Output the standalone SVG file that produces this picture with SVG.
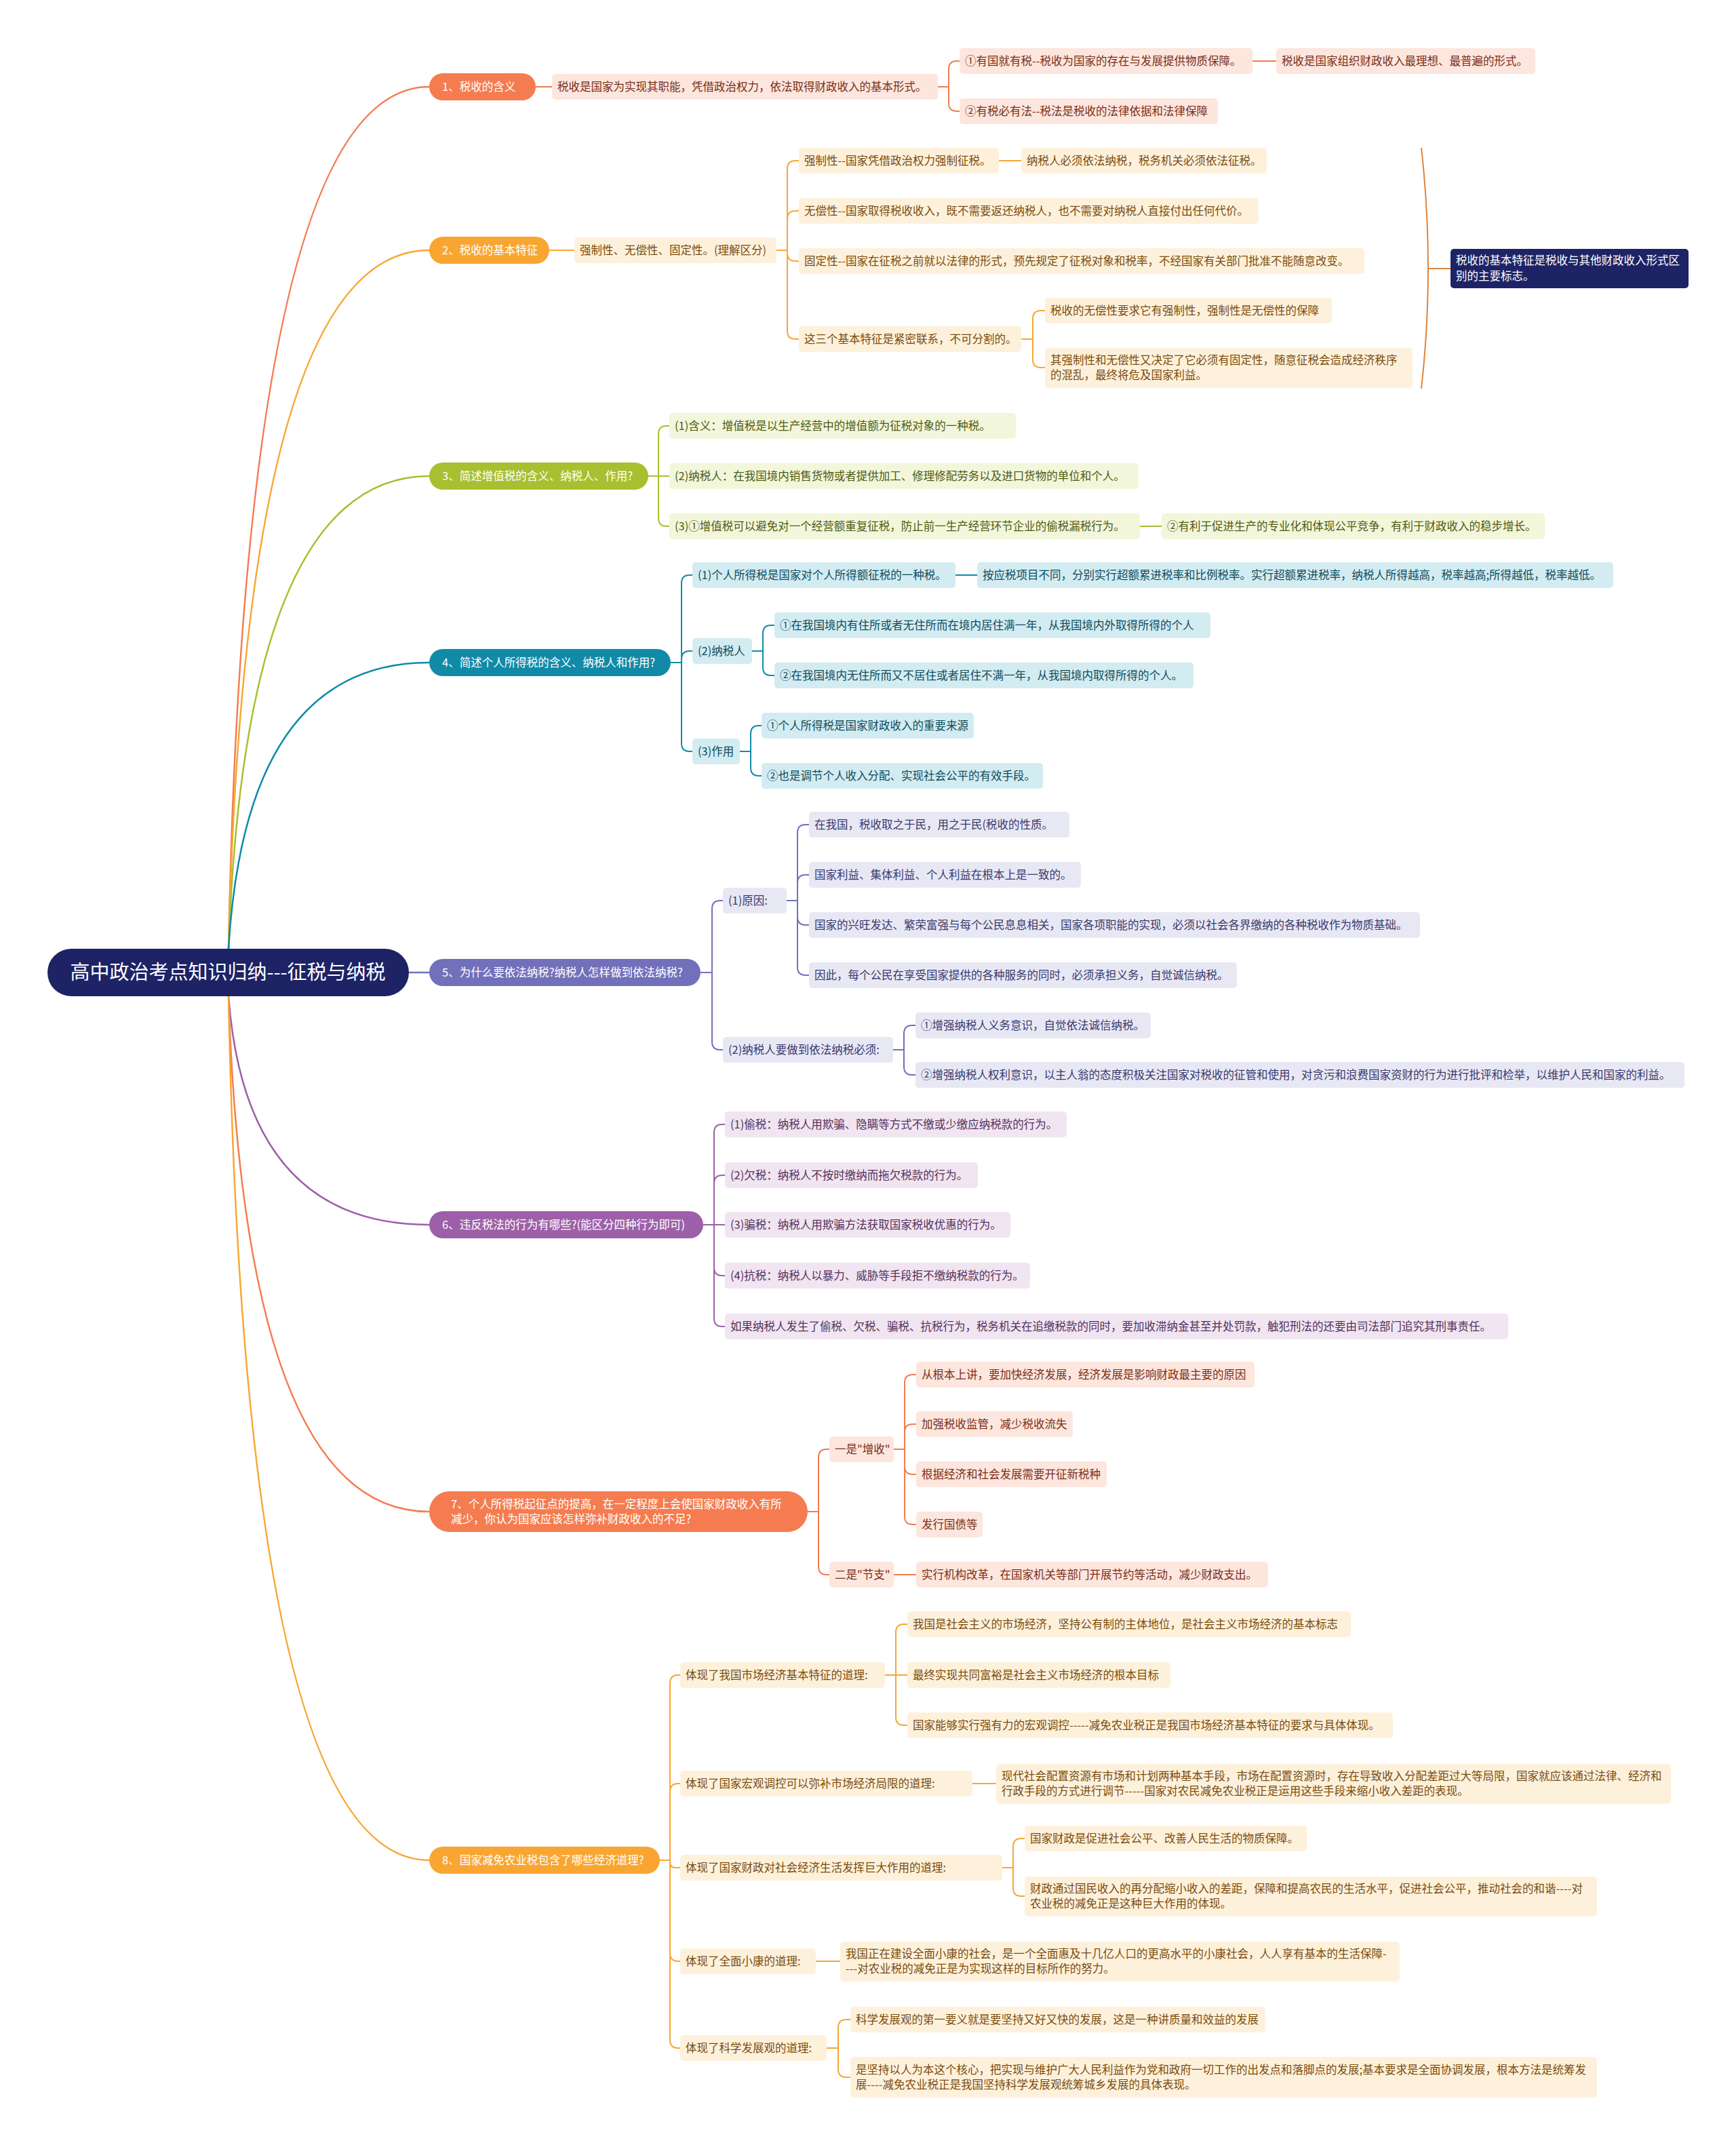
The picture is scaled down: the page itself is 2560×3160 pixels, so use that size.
<svg xmlns="http://www.w3.org/2000/svg" width="2560" height="3160" viewBox="0 0 2560 3160">
<style>
text{font-family:"Noto Sans CJK SC","Noto Sans",sans-serif;font-size:16.5px}
.root rect{fill:#1E2366}
.root text{fill:#fff;font-size:29px}
.m text{fill:#fff}
.m1 rect{fill:#F47C50}.m2 rect{fill:#F8A631}.m3 rect{fill:#A8BF2F}.m4 rect{fill:#118AA8}.m5 rect{fill:#7270BA}.m6 rect{fill:#9D60A8}
.s1 rect{fill:#FDE6DE}.s1 text{fill:#7A2E16}
.s2 rect{fill:#FEF1DC}.s2 text{fill:#7A4C0C}
.s3 rect{fill:#F2F6DB}.s3 text{fill:#4E5A12}
.s4 rect{fill:#D3ECF2}.s4 text{fill:#0D4B5B}
.s5 rect{fill:#E8E8F4}.s5 text{fill:#38386E}
.s6 rect{fill:#F0E5F1}.s6 text{fill:#54305C}
.navy rect{fill:#1E2366}.navy text{fill:#fff}
#connectors path{fill:none;stroke-width:2}
#connectors .rc{stroke-width:2.5}
.c1{stroke:#F47C50}.c2{stroke:#F8A631}.c3{stroke:#A8BF2F}.c4{stroke:#118AA8}.c5{stroke:#7270BA}.c6{stroke:#9D60A8}.cb{stroke:#E0833A}
</style>
<rect width="2560" height="3160" fill="#ffffff"/>
<g id="connectors">
<path class="rc c1" d="M337 1399 Q362 128 633 128"/>
<path class="rc c2" d="M337 1399 Q362 369 633 369"/>
<path class="rc c3" d="M337 1399 Q362 702 633 702"/>
<path class="rc c4" d="M337 1399 Q362 977 633 977"/>
<path class="rc c5" d="M603 1434 H633"/>
<path class="rc c6" d="M337 1469 Q362 1806 633 1806"/>
<path class="rc c1" d="M337 1469 Q362 2229 633 2229"/>
<path class="rc c2" d="M337 1469 Q362 2743 633 2743"/>
<path class="c1" d="M790 128 H814 M1383 128 H1399 V102 Q1399 90 1411 90 H1415 M1399 128 V152 Q1399 164 1411 164 H1415 M1847 90 H1882"/>
<path class="c2" d="M810 369 H847 M1145 369 H1161 V249 Q1161 237 1173 237 H1178 M1161 369 V323 Q1161 311 1173 311 H1178 M1161 369 V373 Q1161 385 1173 385 H1178 M1161 369 V488 Q1161 500 1173 500 H1178 M1473 237 H1506 M1506 500 H1523 V470 Q1523 458 1535 458 H1541 M1523 500 V530 Q1523 542 1535 542 H1541"/>
<path class="cb" d="M2096 218 Q2116 396 2096 573 M2106 396 H2139"/>
<path class="c3" d="M956 702 H971 V640 Q971 628 983 628 H987 M971 702 H987 M971 702 V764 Q971 776 983 776 H987 M1681 776 H1713"/>
<path class="c4" d="M989 977 H1005 V860 Q1005 848 1017 848 H1021 M1005 977 V972 Q1005 960 1017 960 H1021 M1005 977 V1096 Q1005 1108 1017 1108 H1021 M1409 848 H1441 M1109 960 H1125 V934 Q1125 922 1137 922 H1142 M1125 960 V984 Q1125 996 1137 996 H1142 M1091 1108 H1107 V1082 Q1107 1070 1119 1070 H1123 M1107 1108 V1132 Q1107 1144 1119 1144 H1123"/>
<path class="c5" d="M1033 1434 H1050 V1340 Q1050 1328 1062 1328 H1066 M1050 1434 V1536 Q1050 1548 1062 1548 H1066 M1160 1328 H1176 V1228 Q1176 1216 1188 1216 H1193 M1176 1328 V1302 Q1176 1290 1188 1290 H1193 M1176 1328 V1352 Q1176 1364 1188 1364 H1193 M1176 1328 V1426 Q1176 1438 1188 1438 H1193 M1317 1548 H1333 V1524 Q1333 1512 1345 1512 H1350 M1333 1548 V1573 Q1333 1585 1345 1585 H1350"/>
<path class="c6" d="M1037 1806 H1053 V1670 Q1053 1658 1065 1658 H1069 M1053 1806 V1745 Q1053 1733 1065 1733 H1069 M1053 1806 H1069 M1053 1806 V1869 Q1053 1881 1065 1881 H1069 M1053 1806 V1944 Q1053 1956 1065 1956 H1069"/>
<path class="c1" d="M1191 2229 H1207 V2149 Q1207 2137 1219 2137 H1223 M1207 2229 V2310 Q1207 2322 1219 2322 H1223 M1318 2137 H1334 V2039 Q1334 2027 1346 2027 H1351 M1334 2137 V2112 Q1334 2100 1346 2100 H1351 M1334 2137 V2162 Q1334 2174 1346 2174 H1351 M1334 2137 V2236 Q1334 2248 1346 2248 H1351 M1318 2322 H1351"/>
<path class="c2" d="M973 2743 H988 V2482 Q988 2470 1000 2470 H1003 M988 2743 V2642 Q988 2630 1000 2630 H1003 M988 2743 V2746 Q988 2754 996 2754 H1003 M988 2743 V2880 Q988 2892 1000 2892 H1003 M988 2743 V3008 Q988 3020 1000 3020 H1003 M1305 2470 H1338 M1321 2470 V2407 Q1321 2395 1333 2395 H1338 M1321 2470 V2532 Q1321 2544 1333 2544 H1338 M1434 2630 H1469 M1478 2754 H1494 V2723 Q1494 2711 1506 2711 H1511 M1494 2754 V2784 Q1494 2796 1506 2796 H1511 M1203 2892 H1239 M1219 3020 H1236 V2990 Q1236 2978 1248 2978 H1254 M1236 3020 V3051 Q1236 3063 1248 3063 H1254"/>
</g>
<g id="root" class="root"><rect x="70" y="1399" width="533" height="70" rx="35"/><text x="336" y="1444" text-anchor="middle">高中政治考点知识归纳---征税与纳税</text></g>

<g id="n1" class="m m1"><rect x="633" y="108" width="157" height="40" rx="20"/><text x="652" y="134">1、税收的含义</text></g>
<g id="n1-1" class="s1"><rect x="814" y="109" width="569" height="38" rx="5"/><text x="822" y="134">税收是国家为实现其职能，凭借政治权力，依法取得财政收入的基本形式。</text></g>
<g id="n1-1-1" class="s1"><rect x="1415" y="71" width="432" height="38" rx="5"/><text x="1423" y="96">①有国就有税--税收为国家的存在与发展提供物质保障。</text></g>
<g id="n1-1-1-1" class="s1"><rect x="1882" y="71" width="382" height="38" rx="5"/><text x="1890" y="96">税收是国家组织财政收入最理想、最普遍的形式。</text></g>
<g id="n1-1-2" class="s1"><rect x="1415" y="145" width="381" height="38" rx="5"/><text x="1423" y="170">②有税必有法--税法是税收的法律依据和法律保障</text></g>

<g id="n2" class="m m2"><rect x="633" y="349" width="177" height="40" rx="20"/><text x="652" y="375">2、税收的基本特征</text></g>
<g id="n2-1" class="s2"><rect x="847" y="350" width="298" height="38" rx="5"/><text x="855" y="375">强制性、无偿性、固定性。(理解区分)</text></g>
<g id="n2-1-1" class="s2"><rect x="1178" y="218" width="295" height="38" rx="5"/><text x="1186" y="243">强制性--国家凭借政治权力强制征税。</text></g>
<g id="n2-1-1-1" class="s2"><rect x="1506" y="218" width="362" height="38" rx="5"/><text x="1514" y="243">纳税人必须依法纳税，税务机关必须依法征税。</text></g>
<g id="n2-1-2" class="s2"><rect x="1178" y="292" width="678" height="38" rx="5"/><text x="1186" y="317">无偿性--国家取得税收收入，既不需要返还纳税人，也不需要对纳税人直接付出任何代价。</text></g>
<g id="n2-1-3" class="s2"><rect x="1178" y="366" width="834" height="38" rx="5"/><text x="1186" y="391">固定性--国家在征税之前就以法律的形式，预先规定了征税对象和税率，不经国家有关部门批准不能随意改变。</text></g>
<g id="n2-1-4" class="s2"><rect x="1178" y="481" width="328" height="38" rx="5"/><text x="1186" y="506">这三个基本特征是紧密联系，不可分割的。</text></g>
<g id="n2-1-4-1" class="s2"><rect x="1541" y="439" width="423" height="38" rx="5"/><text x="1549" y="464">税收的无偿性要求它有强制性，强制性是无偿性的保障</text></g>
<g id="n2-1-4-2" class="s2"><rect x="1541" y="513" width="542" height="59" rx="5"/><text x="1549" y="537">其强制性和无偿性又决定了它必须有固定性，随意征税会造成经济秩序</text><text x="1549" y="559">的混乱，最终将危及国家利益。</text></g>
<g id="n2-summary" class="navy"><rect x="2139" y="367" width="351" height="58" rx="5"/><text x="2147" y="390">税收的基本特征是税收与其他财政收入形式区</text><text x="2147" y="413">别的主要标志。</text></g>

<g id="n3" class="m m3"><rect x="633" y="682" width="323" height="40" rx="20"/><text x="652" y="708">3、简述增值税的含义、纳税人、作用?</text></g>
<g id="n3-1" class="s3"><rect x="987" y="609" width="511" height="38" rx="5"/><text x="995" y="634">(1)含义：增值税是以生产经营中的增值额为征税对象的一种税。</text></g>
<g id="n3-2" class="s3"><rect x="987" y="683" width="692" height="38" rx="5"/><text x="995" y="708">(2)纳税人：在我国境内销售货物或者提供加工、修理修配劳务以及进口货物的单位和个人。</text></g>
<g id="n3-3" class="s3"><rect x="987" y="757" width="694" height="38" rx="5"/><text x="995" y="782">(3)①增值税可以避免对一个经营额重复征税，防止前一生产经营环节企业的偷税漏税行为。</text></g>
<g id="n3-3-1" class="s3"><rect x="1713" y="757" width="565" height="38" rx="5"/><text x="1721" y="782">②有利于促进生产的专业化和体现公平竞争，有利于财政收入的稳步增长。</text></g>

<g id="n4" class="m m4"><rect x="633" y="957" width="356" height="40" rx="20"/><text x="652" y="983">4、简述个人所得税的含义、纳税人和作用?</text></g>
<g id="n4-1" class="s4"><rect x="1021" y="829" width="388" height="38" rx="5"/><text x="1029" y="854">(1)个人所得税是国家对个人所得额征税的一种税。</text></g>
<g id="n4-1-1" class="s4"><rect x="1441" y="829" width="938" height="38" rx="5"/><text x="1449" y="854">按应税项目不同，分别实行超额累进税率和比例税率。实行超额累进税率，纳税人所得越高，税率越高;所得越低，税率越低。</text></g>
<g id="n4-2" class="s4"><rect x="1021" y="941" width="88" height="38" rx="5"/><text x="1029" y="966">(2)纳税人</text></g>
<g id="n4-2-1" class="s4"><rect x="1142" y="903" width="643" height="38" rx="5"/><text x="1150" y="928">①在我国境内有住所或者无住所而在境内居住满一年，从我国境内外取得所得的个人</text></g>
<g id="n4-2-2" class="s4"><rect x="1142" y="977" width="618" height="38" rx="5"/><text x="1150" y="1002">②在我国境内无住所而又不居住或者居住不满一年，从我国境内取得所得的个人。</text></g>
<g id="n4-3" class="s4"><rect x="1021" y="1089" width="70" height="38" rx="5"/><text x="1029" y="1114">(3)作用</text></g>
<g id="n4-3-1" class="s4"><rect x="1123" y="1051" width="313" height="38" rx="5"/><text x="1131" y="1076">①个人所得税是国家财政收入的重要来源</text></g>
<g id="n4-3-2" class="s4"><rect x="1123" y="1125" width="415" height="38" rx="5"/><text x="1131" y="1150">②也是调节个人收入分配、实现社会公平的有效手段。</text></g>

<g id="n5" class="m m5"><rect x="633" y="1414" width="400" height="40" rx="20"/><text x="652" y="1440">5、为什么要依法纳税?纳税人怎样做到依法纳税?</text></g>
<g id="n5-1" class="s5"><rect x="1066" y="1309" width="94" height="38" rx="5"/><text x="1074" y="1334">(1)原因:</text></g>
<g id="n5-1-1" class="s5"><rect x="1193" y="1197" width="384" height="38" rx="5"/><text x="1201" y="1222">在我国，税收取之于民，用之于民(税收的性质。</text></g>
<g id="n5-1-2" class="s5"><rect x="1193" y="1271" width="401" height="38" rx="5"/><text x="1201" y="1296">国家利益、集体利益、个人利益在根本上是一致的。</text></g>
<g id="n5-1-3" class="s5"><rect x="1193" y="1345" width="901" height="38" rx="5"/><text x="1201" y="1370">国家的兴旺发达、繁荣富强与每个公民息息相关，国家各项职能的实现，必须以社会各界缴纳的各种税收作为物质基础。</text></g>
<g id="n5-1-4" class="s5"><rect x="1193" y="1419" width="631" height="38" rx="5"/><text x="1201" y="1444">因此，每个公民在享受国家提供的各种服务的同时，必须承担义务，自觉诚信纳税。</text></g>
<g id="n5-2" class="s5"><rect x="1066" y="1529" width="251" height="38" rx="5"/><text x="1074" y="1554">(2)纳税人要做到依法纳税必须:</text></g>
<g id="n5-2-1" class="s5"><rect x="1350" y="1493" width="347" height="38" rx="5"/><text x="1358" y="1518">①增强纳税人义务意识，自觉依法诚信纳税。</text></g>
<g id="n5-2-2" class="s5"><rect x="1350" y="1566" width="1134" height="38" rx="5"/><text x="1358" y="1591">②增强纳税人权利意识，以主人翁的态度积极关注国家对税收的征管和使用，对贪污和浪费国家资财的行为进行批评和检举，以维护人民和国家的利益。</text></g>

<g id="n6" class="m m6"><rect x="633" y="1786" width="404" height="40" rx="20"/><text x="652" y="1812">6、违反税法的行为有哪些?(能区分四种行为即可)</text></g>
<g id="n6-1" class="s6"><rect x="1069" y="1639" width="504" height="38" rx="5"/><text x="1077" y="1664">(1)偷税：纳税人用欺骗、隐瞒等方式不缴或少缴应纳税款的行为。</text></g>
<g id="n6-2" class="s6"><rect x="1069" y="1714" width="373" height="38" rx="5"/><text x="1077" y="1739">(2)欠税：纳税人不按时缴纳而拖欠税款的行为。</text></g>
<g id="n6-3" class="s6"><rect x="1069" y="1787" width="421" height="38" rx="5"/><text x="1077" y="1812">(3)骗税：纳税人用欺骗方法获取国家税收优惠的行为。</text></g>
<g id="n6-4" class="s6"><rect x="1069" y="1862" width="450" height="38" rx="5"/><text x="1077" y="1887">(4)抗税：纳税人以暴力、威胁等手段拒不缴纳税款的行为。</text></g>
<g id="n6-5" class="s6"><rect x="1069" y="1937" width="1155" height="38" rx="5"/><text x="1077" y="1962">如果纳税人发生了偷税、欠税、骗税、抗税行为，税务机关在追缴税款的同时，要加收滞纳金甚至并处罚款，触犯刑法的还要由司法部门追究其刑事责任。</text></g>

<g id="n7" class="m m1"><rect x="633" y="2199" width="558" height="60" rx="30"/><text x="665" y="2224">7、个人所得税起征点的提高，在一定程度上会使国家财政收入有所</text><text x="665" y="2246">减少，你认为国家应该怎样弥补财政收入的不足?</text></g>
<g id="n7-1" class="s1"><rect x="1223" y="2118" width="95" height="38" rx="5"/><text x="1231" y="2143">一是"增收"</text></g>
<g id="n7-1-1" class="s1"><rect x="1351" y="2008" width="499" height="38" rx="5"/><text x="1359" y="2033">从根本上讲，要加快经济发展，经济发展是影响财政最主要的原因</text></g>
<g id="n7-1-2" class="s1"><rect x="1351" y="2081" width="231" height="38" rx="5"/><text x="1359" y="2106">加强税收监管，减少税收流失</text></g>
<g id="n7-1-3" class="s1"><rect x="1351" y="2155" width="281" height="38" rx="5"/><text x="1359" y="2180">根据经济和社会发展需要开征新税种</text></g>
<g id="n7-1-4" class="s1"><rect x="1351" y="2229" width="98" height="38" rx="5"/><text x="1359" y="2254">发行国债等</text></g>
<g id="n7-2" class="s1"><rect x="1223" y="2303" width="95" height="38" rx="5"/><text x="1231" y="2328">二是"节支"</text></g>
<g id="n7-2-1" class="s1"><rect x="1351" y="2303" width="519" height="38" rx="5"/><text x="1359" y="2328">实行机构改革，在国家机关等部门开展节约等活动，减少财政支出。</text></g>

<g id="n8" class="m m2"><rect x="633" y="2723" width="340" height="40" rx="20"/><text x="652" y="2749">8、国家减免农业税包含了哪些经济道理?</text></g>
<g id="n8-1" class="s2"><rect x="1003" y="2451" width="302" height="38" rx="5"/><text x="1011" y="2476">体现了我国市场经济基本特征的道理:</text></g>
<g id="n8-1-1" class="s2"><rect x="1338" y="2376" width="654" height="38" rx="5"/><text x="1346" y="2401">我国是社会主义的市场经济，坚持公有制的主体地位，是社会主义市场经济的基本标志</text></g>
<g id="n8-1-2" class="s2"><rect x="1338" y="2451" width="388" height="38" rx="5"/><text x="1346" y="2476">最终实现共同富裕是社会主义市场经济的根本目标</text></g>
<g id="n8-1-3" class="s2"><rect x="1338" y="2525" width="716" height="38" rx="5"/><text x="1346" y="2550">国家能够实行强有力的宏观调控-----减免农业税正是我国市场经济基本特征的要求与具体体现。</text></g>
<g id="n8-2" class="s2"><rect x="1003" y="2611" width="431" height="38" rx="5"/><text x="1011" y="2636">体现了国家宏观调控可以弥补市场经济局限的道理:</text></g>
<g id="n8-2-1" class="s2"><rect x="1469" y="2601" width="995" height="59" rx="5"/><text x="1477" y="2625">现代社会配置资源有市场和计划两种基本手段，市场在配置资源时，存在导致收入分配差距过大等局限，国家就应该通过法律、经济和</text><text x="1477" y="2647">行政手段的方式进行调节-----国家对农民减免农业税正是运用这些手段来缩小收入差距的表现。</text></g>
<g id="n8-3" class="s2"><rect x="1003" y="2735" width="475" height="38" rx="5"/><text x="1011" y="2760">体现了国家财政对社会经济生活发挥巨大作用的道理:</text></g>
<g id="n8-3-1" class="s2"><rect x="1511" y="2692" width="416" height="38" rx="5"/><text x="1519" y="2717">国家财政是促进社会公平、改善人民生活的物质保障。</text></g>
<g id="n8-3-2" class="s2"><rect x="1511" y="2767" width="844" height="59" rx="5"/><text x="1519" y="2791">财政通过国民收入的再分配缩小收入的差距，保障和提高农民的生活水平，促进社会公平，推动社会的和谐----对</text><text x="1519" y="2813">农业税的减免正是这种巨大作用的体现。</text></g>
<g id="n8-4" class="s2"><rect x="1003" y="2873" width="200" height="38" rx="5"/><text x="1011" y="2898">体现了全面小康的道理:</text></g>
<g id="n8-4-1" class="s2"><rect x="1239" y="2863" width="825" height="59" rx="5"/><text x="1247" y="2887">我国正在建设全面小康的社会，是一个全面惠及十几亿人口的更高水平的小康社会，人人享有基本的生活保障-</text><text x="1247" y="2909">---对农业税的减免正是为实现这样的目标所作的努力。</text></g>
<g id="n8-5" class="s2"><rect x="1003" y="3001" width="216" height="38" rx="5"/><text x="1011" y="3026">体现了科学发展观的道理:</text></g>
<g id="n8-5-1" class="s2"><rect x="1254" y="2959" width="612" height="38" rx="5"/><text x="1262" y="2984">科学发展观的第一要义就是要坚持又好又快的发展，这是一种讲质量和效益的发展</text></g>
<g id="n8-5-2" class="s2"><rect x="1254" y="3033" width="1101" height="60" rx="5"/><text x="1262" y="3058">是坚持以人为本这个核心，把实现与维护广大人民利益作为党和政府一切工作的出发点和落脚点的发展;基本要求是全面协调发展，根本方法是统筹发</text><text x="1262" y="3080">展----减免农业税正是我国坚持科学发展观统筹城乡发展的具体表现。</text></g>
</svg>
